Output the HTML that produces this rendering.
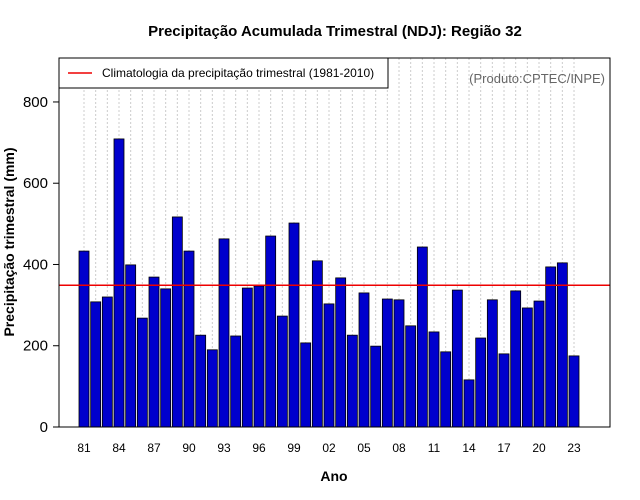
<!DOCTYPE html>
<html><head><meta charset="utf-8"><style>
body{margin:0;background:#fff;}
svg{display:block;font-family:"Liberation Sans",sans-serif;}
</style></head><body>
<svg id="chart" width="640" height="500">
<text x="335" y="36" text-anchor="middle" font-size="15" font-weight="bold">Precipitação Acumulada Trimestral (NDJ): Região 32</text>
<g id="grid"></g>
<g id="bars"></g>
<g id="axes"></g>
<rect x="59" y="58" width="551" height="369" fill="none" stroke="#000"/>
<g>
<rect x="59" y="58" width="329" height="30" fill="#fff" stroke="#000"/>
<line x1="68" y1="73" x2="92" y2="73" stroke="#e00" stroke-width="1.5"/>
<text x="102" y="77" font-size="12">Climatologia da precipitação trimestral (1981-2010)</text>
</g>
<text x="605" y="83" text-anchor="end" font-size="13" fill="#666">(Produto:CPTEC/INPE)</text>
<text x="334" y="481" text-anchor="middle" font-size="14" font-weight="bold">Ano</text>
<text transform="translate(14,242) rotate(-90)" text-anchor="middle" font-size="14" font-weight="bold">Precipitação trimestral (mm)</text>
</svg>
<script>
const years=[1981,1982,1983,1984,1985,1986,1987,1988,1989,1990,1991,1992,1993,1994,1995,1996,1997,1998,1999,2000,2001,2002,2003,2004,2005,2006,2007,2008,2009,2010,2011,2012,2013,2014,2015,2016,2017,2018,2019,2020,2021,2022,2023];
const values=[433,308,320,709,399,268,369,340,517,433,226,190,463,224,342,347,470,273,502,207,409,303,367,226,330,199,315,313,249,443,234,185,337,116,219,313,180,335,293,310,394,404,175];
const climatology=349;
const yTicks=[0,200,400,600,800];
const NS='http://www.w3.org/2000/svg';
const xs=y=>84+(y-1981)*11.667;
const ys=v=>427-v*0.4063;
function mk(t,a,p){const e=document.createElementNS(NS,t);for(const k in a)e.setAttribute(k,a[k]);p.appendChild(e);return e;}
const grid=document.getElementById('grid'),bars=document.getElementById('bars'),axes=document.getElementById('axes');
years.forEach(y=>{
 const g=mk('line',{x1:xs(y),x2:xs(y),y1:58,y2:427,stroke:'#ccc','stroke-dasharray':'2,2'},grid);
 
 
});
values.forEach((v,i)=>{
 const r=mk('rect',{x:xs(years[i])-5,y:ys(v),width:10,height:ys(0)-ys(v),fill:'#0000cd',stroke:'#000','stroke-width':0.8},bars);
 
 
});
const cl=mk('line',{x1:59,x2:610,y1:ys(climatology),y2:ys(climatology),stroke:'#e00','stroke-width':1.5},bars);


yTicks.forEach(t=>{
 mk('line',{x1:53,x2:59,y1:ys(t),y2:ys(t),stroke:'#000'},axes);
 const tx=mk('text',{x:48,y:ys(t)+5,'text-anchor':'end','font-size':15},axes);
 tx.textContent=t;
 
 
});
years.filter(y=>(y-1981)%3===0).forEach(y=>{
 mk('line',{x1:xs(y),x2:xs(y),y1:427,y2:433},axes);
 const tx=mk('text',{x:xs(y),y:452,'text-anchor':'middle','font-size':12},axes);
 tx.textContent=String(y).slice(2);
 
 
});
</script>
</body></html>
